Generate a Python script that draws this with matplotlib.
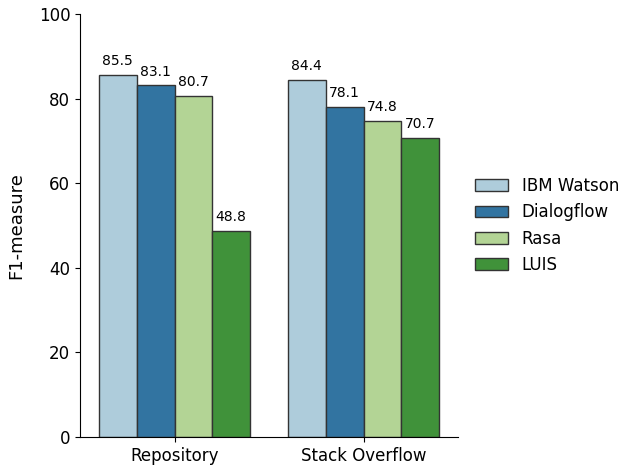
import matplotlib
matplotlib.use("Agg")
import matplotlib.pyplot as plt
import seaborn as sns
import pandas as pd

datasets = ["Repository", "Stack Overflow"]
platforms = ["IBM Watson", "Dialogflow", "Rasa", "LUIS"]
repository = [85.5, 83.1, 80.7, 48.8]
stack_overflow = [84.4, 78.1, 74.8, 70.7]

rows = []
for p, v in zip(platforms, repository):
    rows.append({"Dataset": "Repository", "Platform": p, "F1": v})
for p, v in zip(platforms, stack_overflow):
    rows.append({"Dataset": "Stack Overflow", "Platform": p, "F1": v})
df = pd.DataFrame(rows)

sns.set_style("ticks")
plt.rcParams['font.family'] = ['DejaVu Sans']
plt.rcParams.update({"text.color": "black", "axes.labelcolor": "black",
                     "xtick.color": "black", "ytick.color": "black",
                     "axes.edgecolor": "black"})

fig = plt.figure(figsize=(6.31, 4.69), dpi=100)
ax = fig.add_axes([80/631, 32/469, 378/631, 423/469])
sns.barplot(data=df, x="Dataset", y="F1", hue="Platform", palette="Paired",
            edgecolor=".2", linewidth=1, ax=ax, order=datasets, hue_order=platforms)
for c in ax.containers:
    ax.bar_label(c, fmt="%.1f", padding=5, fontsize=10)
ax.set_ylim(0, 100)
ax.set_xlim(-0.5, 1.5)
ax.set_xlabel("")
ax.set_ylabel("F1-measure", fontsize=13, labelpad=10)
ax.tick_params(labelsize=12)
sns.despine(ax=ax)
ax.legend(loc="center left", bbox_to_anchor=(1.005, 0.5), frameon=False, fontsize=12)
fig.savefig("out.png", dpi=100)
